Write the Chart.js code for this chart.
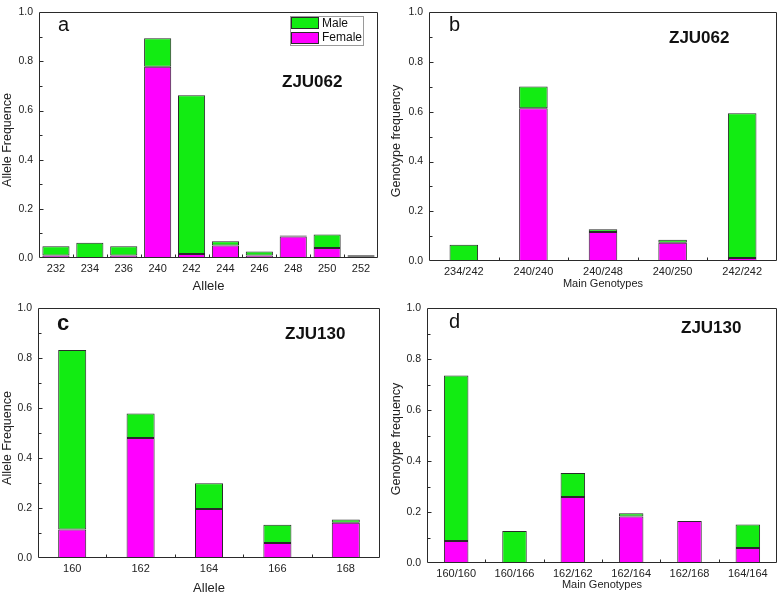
<!DOCTYPE html>
<html><head><meta charset="utf-8">
<script src="https://cdn.jsdelivr.net/npm/chart.js@4/dist/chart.umd.min.js"></script>
<style>
body{margin:0;background:#fff;width:779px;height:592px;position:relative;overflow:hidden}
canvas{position:absolute}
</style></head><body>
<canvas id="ca" width="390" height="296" style="left:0;top:0"></canvas>
<canvas id="cb" width="389" height="296" style="left:390px;top:0"></canvas>
<canvas id="cc" width="390" height="296" style="left:0;top:296px"></canvas>
<canvas id="cd" width="389" height="296" style="left:390px;top:296px"></canvas>
<script>
// ---- data ----
const allelesA = ['232','234','236','240','242','244','246','248','250','252'];
const femaleA  = [0.010, 0, 0.010, 0.778, 0.016, 0.051, 0.010, 0.087, 0.041, 0.005];
const maleA    = [0.038, 0.062, 0.038, 0.116, 0.646, 0.017, 0.016, 0.005, 0.055, 0.006];

const genotypesB = ['234/242','240/240','240/248','240/250','242/242'];
const femaleB    = [0, 0.614, 0.117, 0.073, 0.012];
const maleB      = [0.065, 0.088, 0.011, 0.012, 0.582];

const allelesC = ['160','162','164','166','168'];
const femaleC  = [0.114, 0.481, 0.196, 0.060, 0.141];
const maleC    = [0.719, 0.098, 0.103, 0.073, 0.013];

const genotypesD = ['160/160','160/166','162/162','162/164','162/168','164/164'];
const femaleD    = [0.086, 0, 0.259, 0.183, 0.165, 0.059];
const maleD      = [0.650, 0.126, 0.094, 0.012, 0, 0.092];

const yTicks = [0, 0.2, 0.4, 0.6, 0.8, 1.0];

const GREEN = '#12ec12', MAGENTA = '#ff00ff', EDGE = '#2a2a2a', TXT = '#222';
const FAM = '"Liberation Sans", Arial, sans-serif';
Chart.defaults.font.family = FAM;
Chart.defaults.color = TXT;

const decor = {
  id: 'decor',
  afterDraw(chart, args, o) {
    const {ctx, chartArea: a, scales: {x, y}} = chart;
    ctx.save();
    ctx.strokeStyle = EDGE; ctx.lineWidth = 1;
    const L = Math.round(a.left) + 0.5, R = Math.round(a.right) - 0.5,
          T = Math.round(a.top) + 0.5, B = Math.round(a.bottom) - 0.5;
    ctx.beginPath();
    ctx.moveTo(L, T); ctx.lineTo(R, T); ctx.lineTo(R, B); ctx.lineTo(L, B); ctx.closePath();
    ctx.stroke();
    // y ticks (major + minor), inward
    ctx.beginPath();
    for (let i = 1; i < 10; i++) {
      const py = Math.round(y.getPixelForValue(i / 10)) + 0.5;
      const len = (i % 2 === 0) ? 4 : 3;
      ctx.moveTo(L, py); ctx.lineTo(L + len, py);
    }
    // x ticks between categories
    const n = chart.data.labels.length;
    for (let i = 1; i < n; i++) {
      const px = Math.round((x.getPixelForValue(i - 1) + x.getPixelForValue(i)) / 2) + 0.5;
      ctx.moveTo(px, B); ctx.lineTo(px, B - 3);
    }
    ctx.stroke();
    // y axis title
    ctx.save();
    ctx.translate(o.ytx, o.yty);
    ctx.rotate(-Math.PI / 2);
    ctx.fillStyle = TXT;
    ctx.textAlign = 'center'; ctx.textBaseline = 'middle';
    ctx.font = o.yts + 'px ' + FAM;
    ctx.fillText(o.yt, 0, 0);
    ctx.restore();
    // panel letter
    ctx.fillStyle = '#111';
    ctx.textBaseline = 'alphabetic'; ctx.textAlign = 'left';
    ctx.font = (o.letterBold ? 'bold ' : '') + o.letterSize + 'px ' + FAM;
    ctx.fillText(o.letter, o.lx, o.ly);
    ctx.font = 'bold 17px ' + FAM;
    ctx.fillText(o.tag, o.tx, o.ty);
    // legend
    if (o.legend) {
      const ds = chart.data.datasets;
      ctx.strokeStyle = '#9a9a9a';
      ctx.strokeRect(290.5, 16.5, 73, 29);
      const rows = [[ds[1], 17, 23.5], [ds[0], 32, 38]];
      ctx.font = '12px ' + FAM;
      ctx.textBaseline = 'middle';
      rows.forEach(([d, sy, cy]) => {
        ctx.fillStyle = d.backgroundColor;
        ctx.fillRect(291, sy, 27, 12);
        ctx.strokeStyle = EDGE;
        ctx.strokeRect(291.5, sy + 0.5, 27, 11);
        ctx.fillStyle = '#111';
        ctx.fillText(d.label, 322, cy);
      });
    }
    ctx.restore();
  }
};

function makeChart(id, labels, female, male, c) {
  const el = document.getElementById(id);
  const W = el.width, H = el.height;
  return new Chart(el, {
    type: 'bar',
    data: {
      labels: labels,
      datasets: [
        {label: 'Female', data: female, backgroundColor: MAGENTA, borderColor: EDGE, borderWidth: 1, borderSkipped: false},
        {label: 'Male', data: male, backgroundColor: GREEN, borderColor: EDGE, borderWidth: 1, borderSkipped: false}
      ]
    },
    options: {
      responsive: false, animation: false, devicePixelRatio: 1,
      datasets: {bar: {categoryPercentage: 1, barPercentage: c.bar}},
      layout: {padding: {left: 0, right: W - c.R, top: c.T, bottom: 0}},
      plugins: {
        legend: {display: false}, tooltip: {enabled: false},
        decor: c.decor
      },
      scales: {
        x: {
          stacked: true, offset: true,
          afterFit(s) { s.height = H - c.B; },
          grid: {display: false, drawTicks: false}, border: {display: false},
          ticks: {padding: 4, font: {size: 11}, maxRotation: 0, autoSkip: false, color: TXT},
          title: {display: true, text: c.xt, font: {size: c.xts}, padding: {top: 0, bottom: c.xpb}, color: TXT}
        },
        y: {
          stacked: true, min: 0, max: 1,
          afterFit(s) { s.width = c.L; },
          afterBuildTicks(s) { s.ticks = yTicks.map(v => ({value: v})); },
          grid: {display: false, drawTicks: false}, border: {display: false},
          ticks: {padding: 6, font: {size: 10.5}, color: TXT, callback: v => Number(v).toFixed(1)},
          title: {display: false}
        }
      }
    },
    plugins: [decor]
  });
}

makeChart('ca', allelesA, femaleA, maleA, {
  L: 39, R: 378, T: 4, B: 258, bar: 0.8,
  xt: 'Allele', xts: 13, xpb: 2.2,
  decor: {letter: 'a', letterSize: 20, lx: 58, ly: 31, tag: 'ZJU062', tx: 282, ty: 87, legend: true,
          yt: 'Allele Frequence', yts: 12.5, ytx: 8, yty: 140}
});
makeChart('cb', genotypesB, femaleB, maleB, {
  L: 39, R: 387, T: 6, B: 261, bar: 0.41,
  xt: 'Main Genotypes', xts: 11, xpb: 5.4,
  decor: {letter: 'b', letterSize: 20, lx: 59, ly: 31, tag: 'ZJU062', tx: 279, ty: 43, legend: false,
          yt: 'Genotype frequency', yts: 12.5, ytx: 7, yty: 141}
});
makeChart('cc', allelesC, femaleC, maleC, {
  L: 38, R: 380, T: 7, B: 262, bar: 0.41,
  xt: 'Allele', xts: 13, xpb: -3.8,
  decor: {letter: 'c', letterSize: 22, letterBold: true, lx: 57, ly: 34, tag: 'ZJU130', tx: 285, ty: 43, legend: false,
          yt: 'Allele Frequence', yts: 12.5, ytx: 8, yty: 142}
});
makeChart('cd', genotypesD, femaleD, maleD, {
  L: 37, R: 387, T: 8, B: 267, bar: 0.42,
  xt: 'Main Genotypes', xts: 11, xpb: 0.4,
  decor: {letter: 'd', letterSize: 20, lx: 59, ly: 32, tag: 'ZJU130', tx: 291, ty: 37, legend: false,
          yt: 'Genotype frequency', yts: 12.5, ytx: 7, yty: 143}
});
</script>
</body></html>
